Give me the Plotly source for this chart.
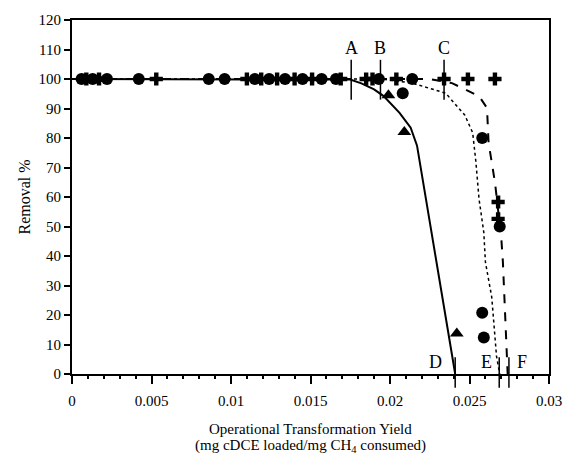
import plotly.graph_objects as go

# ---- data ----
circle_x = [0.0006, 0.0013, 0.0022, 0.0042, 0.0086, 0.0096, 0.0115, 0.0124, 0.0134,
            0.0145, 0.0157, 0.0166, 0.0193, 0.0214, 0.0208, 0.0258, 0.0258, 0.0259, 0.0269]
circle_y = [100, 100, 100, 100, 100, 100, 100, 100, 100,
            100, 100, 100, 100, 100, 95.2, 80, 20.8, 12.4, 50]
cross_x = [0.0009, 0.0017, 0.0053, 0.0110, 0.0119, 0.0129, 0.0140, 0.0151, 0.0169,
           0.0185, 0.0189, 0.0204, 0.0234, 0.0249, 0.0266, 0.0268, 0.0268]
cross_y = [100, 100, 100, 100, 100, 100, 100, 100, 100,
           100, 100, 100, 100, 100, 100, 58.3, 52.6]
tri_x = [0.0017, 0.0199, 0.0209, 0.0242]
tri_y = [100, 94.5, 82, 13.7]

solid_x = [0, 0.0175, 0.0182, 0.0190, 0.0196, 0.0206, 0.0213, 0.0217, 0.0241]
solid_y = [100, 99.8, 98.5, 96.5, 94.2, 88.5, 83.5, 77.4, 0]
dotted_x = [0, 0.0195, 0.0214, 0.0235, 0.0247, 0.0252, 0.0254, 0.0256, 0.0259, 0.0260, 0.0264, 0.0267, 0.0269]
dotted_y = [100, 100, 98.6, 95.2, 87.8, 81.8, 72, 59.3, 48, 38, 26, 6, 0]
dashed_x = [0, 0.0225, 0.0239, 0.0256, 0.0261, 0.0262, 0.0266, 0.0270, 0.0271, 0.0273, 0.0274]
dashed_y = [100, 100, 98.6, 94.2, 90.2, 78.4, 65, 46, 38, 14.7, 0]

top_marks = ["A", "B", "C"]
top_marks_x = [0.01756, 0.0194, 0.0234]
bottom_marks = ["D", "E", "F"]
bottom_marks_x = [0.0241, 0.02687, 0.02748]

x_ticks = [0, 0.005, 0.01, 0.015, 0.02, 0.025, 0.03]
x_tick_text = ["0", "0.005", "0.01", "0.015", "0.02", "0.025", "0.03"]
y_ticks = list(range(0, 121, 10))

FONT = "Liberation Serif"

fig = go.Figure()
fig.add_trace(go.Scatter(x=solid_x, y=solid_y, mode="lines",
                         line=dict(color="black", width=2)))
fig.add_trace(go.Scatter(x=dotted_x, y=dotted_y, mode="lines",
                         line=dict(color="black", width=1.5, dash="dot")))
fig.add_trace(go.Scatter(x=dashed_x, y=dashed_y, mode="lines",
                         line=dict(color="black", width=2, dash="dash")))
fig.add_trace(go.Scatter(x=circle_x, y=circle_y, mode="markers",
                         marker=dict(symbol="circle", size=12, color="black")))
fig.add_trace(go.Scatter(x=cross_x, y=cross_y, mode="markers",
                         marker=dict(symbol="cross", size=11, color="black")))
fig.add_trace(go.Scatter(x=tri_x, y=tri_y, mode="markers",
                         marker=dict(symbol="triangle-up", size=12, color="black")))

shapes = []
annotations = []
for lab, xv in zip(top_marks, top_marks_x):
    shapes.append(dict(type="line", xref="x", yref="y", x0=xv, x1=xv, y0=93, y1=106.5,
                       line=dict(color="black", width=1.5)))
    annotations.append(dict(x=xv, y=110.5, xref="x", yref="y", text=lab, showarrow=False,
                            yanchor="middle",
                            font=dict(family=FONT, size=18, color="black")))
for lab, xv, dx in zip(bottom_marks, bottom_marks_x, [-20, -13, 13]):
    shapes.append(dict(type="line", xref="x", yref="paper", x0=xv, x1=xv,
                       y0=-4.7 / 120, y1=5.7 / 120,
                       line=dict(color="black", width=1.5)))
    annotations.append(dict(x=xv, y=4.2 / 120, xref="x", yref="paper", text=lab,
                            showarrow=False, xshift=dx, yanchor="middle",
                            font=dict(family=FONT, size=18, color="black")))

annotations.append(dict(x=0.5, y=-0.156, xref="paper", yref="paper", yanchor="middle",
                        text="Operational Transformation Yield",
                        showarrow=False, font=dict(family=FONT, size=15, color="black")))
annotations.append(dict(x=0.5, y=-0.204, xref="paper", yref="paper", yanchor="middle",
                        text="(mg cDCE loaded/mg CH<sub>4</sub> consumed)",
                        showarrow=False, font=dict(family=FONT, size=15, color="black")))

fig.update_layout(
    width=574, height=463,
    margin=dict(l=72, r=15, t=16, b=89),
    paper_bgcolor="white", plot_bgcolor="white",
    showlegend=False,
    font=dict(family=FONT, size=15, color="black"),
    shapes=shapes, annotations=annotations,
    xaxis=dict(range=[0, 0.03], tickvals=x_ticks, ticktext=x_tick_text,
               showline=True, linecolor="black", linewidth=2, mirror=True,
               ticks="outside", ticklen=8, tickwidth=2, tickcolor="black",
               minor=dict(dtick=0.001, ticks="outside", ticklen=3, tickwidth=1.5, tickcolor="black"),
               showgrid=False, zeroline=False, ticklabelstandoff=4),
    yaxis=dict(range=[0, 120], tickvals=y_ticks,
               showline=True, linecolor="black", linewidth=2, mirror=True,
               ticks="outside", ticklen=6, tickwidth=2, tickcolor="black",
               showgrid=False, zeroline=False,
               title=dict(text="Removal %", font=dict(family=FONT, size=16), standoff=4)),
)

fig.write_html("out.html")
